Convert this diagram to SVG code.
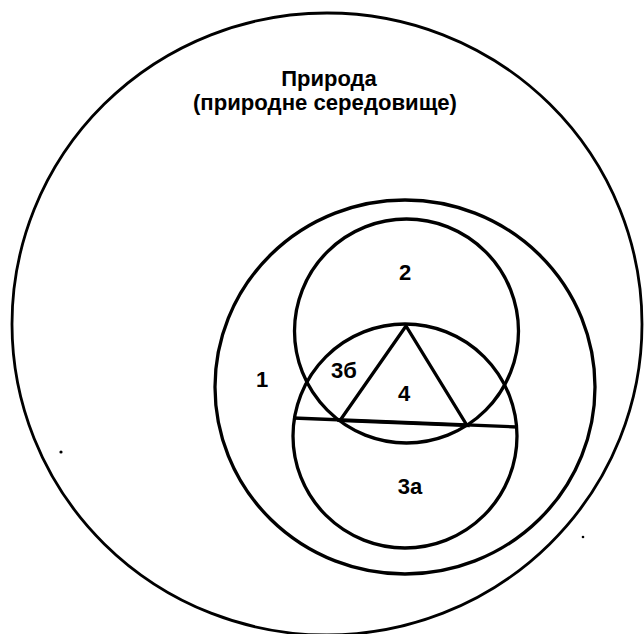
<svg xmlns="http://www.w3.org/2000/svg" width="644" height="634" viewBox="0 0 644 634">
<style>
.ln{fill:none;stroke:#000;stroke-width:3.3}
.t{font-family:"Liberation Sans",Arial,sans-serif;font-weight:bold;fill:#000;text-anchor:middle}
.title{font-size:22px}
.num{font-size:22px}
</style>
<rect width="644" height="634" fill="#fff"/>
<g id="nature">
<ellipse class="ln" cx="327" cy="324" rx="315" ry="311" style="stroke-width:2.8"/>
<text class="t title" x="329" y="86">Природа</text>
<text class="t title" x="325" y="110" textLength="264" lengthAdjust="spacingAndGlyphs">(природне середовище)</text>
</g>
<g id="region1">
<ellipse class="ln" cx="405" cy="387" rx="190" ry="187"/>
<text class="t num" x="262" y="387">1</text>
</g>
<g id="region2">
<circle class="ln" cx="406.5" cy="331" r="112"/>
<text class="t num" x="405" y="280">2</text>
</g>
<g id="region3">
<circle class="ln" cx="405" cy="436" r="112"/>
<line class="ln" x1="293" y1="418" x2="517" y2="427"/>
<text class="t num" x="344" y="378">3б</text>
<text class="t num" x="410" y="494">3а</text>
</g>
<g id="region4">
<polygon class="ln" points="406,326 340,420.5 467,425.5" stroke-linejoin="miter"/>
<text class="t num" x="404" y="401">4</text>
</g>
<g id="specks">
<circle cx="61" cy="452" r="1.6" fill="#000"/>
<circle cx="583" cy="537" r="1.3" fill="#000"/>
</g>
</svg>
